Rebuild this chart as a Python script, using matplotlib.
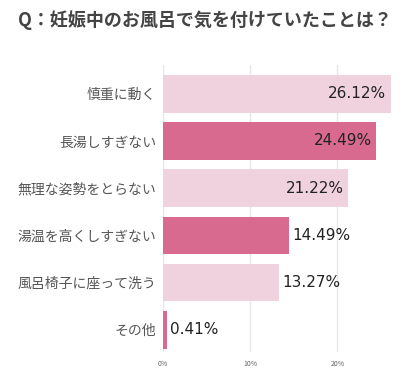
import matplotlib.pyplot as plt

plt.rcParams['font.family'] = ['Noto Sans CJK JP', 'DejaVu Sans']

labels = ["慎重に動く", "長湯しすぎない", "無理な姿勢をとらない",
          "湯温を高くしすぎない", "風呂椅子に座って洗う", "その他"]
values = [26.12, 24.49, 21.22, 14.49, 13.27, 0.41]
xticks = [0, 10, 20]
xtick_labels = ["0%", "10%", "20%"]

light = "#f0d2de"
dark = "#d86a90"
colors = [light, dark, light, dark, light, dark]

fig = plt.figure(figsize=(4.1, 3.82), dpi=100)
ax = fig.add_axes([163 / 410, 1 - 352 / 382, 231 / 410, 287 / 382])

ax.barh(range(len(values)), values, height=0.8, color=colors, zorder=2)
ax.set_xlim(0, 26.5)
ax.set_ylim(5.47, -0.61)

# value labels: inside the bar for long bars, outside otherwise
for i, v in enumerate(values):
    txt = f"{v:.2f}%"
    if v > 20:
        ax.text(v - 0.5, i, txt, ha="right", va="center", fontsize=11,
                color="#222222", family="DejaVu Sans", zorder=3)
    else:
        ax.text(v + 0.4, i, txt, ha="left", va="center", fontsize=11,
                color="#222222", family="DejaVu Sans", zorder=3)

ax.set_yticks(range(len(labels)))
ax.set_yticklabels(labels, fontsize=10, color="#555555")
ax.set_xticks(xticks)
ax.set_xticklabels(xtick_labels, fontsize=5, color="#666666")
ax.tick_params(axis="both", length=0, pad=5)
ax.tick_params(axis="x", pad=6)
ax.grid(axis="x", color="#e6e6e6", linewidth=1, zorder=0)
for s in ax.spines.values():
    s.set_visible(False)

fig.text(0.5, 1 - 20 / 382, "Q：妊娠中のお風呂で気を付けていたことは？", ha="center",
         va="center", fontsize=13, fontweight="bold", color="#444444")

fig.savefig("out.png", dpi=100)
